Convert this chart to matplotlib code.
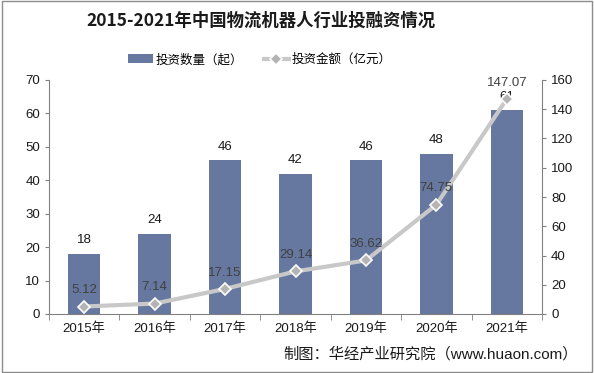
import matplotlib
matplotlib.use("Agg")
import matplotlib.pyplot as plt
from matplotlib.patches import Rectangle
import numpy as np

plt.rcParams['font.family'] = ['Liberation Sans', 'Noto Sans CJK SC', 'DejaVu Sans']

years = ['2015年', '2016年', '2017年', '2018年', '2019年', '2020年', '2021年']
counts = [18, 24, 46, 42, 46, 48, 61]
amounts = [5.12, 7.14, 17.15, 29.14, 36.62, 74.75, 147.07]
title = '2015-2021年中国物流机器人行业投融资情况'
legend_labels = ['投资数量（起）', '投资金额（亿元）']
source = '制图：华经产业研究院（www.huaon.com）'

W, H = 594, 373
fig = plt.figure(figsize=(W/100, H/100), dpi=100)
fig.patches.append(Rectangle((0.003, 0.004), 0.993, 0.992, transform=fig.transFigure,
                             fill=False, edgecolor='#8c8c8c', linewidth=1.0))

left, right, bottom, top = 49/W, 542/W, 1-314/H, 1-80/H
ax = fig.add_axes([left, bottom, right-left, top-bottom])
ax2 = ax.twinx()

x = np.arange(len(years))
bar_color = '#66789f'
bars = ax.bar(x, counts, width=0.46, color=bar_color, zorder=2, label=legend_labels[0])
ax.set_xlim(-0.5, len(years)-0.5)
ax.set_ylim(0, 70)
ax.set_yticks(range(0, 71, 10))
ax2.set_ylim(0, 160)
ax2.set_yticks(range(0, 161, 20))

for xi, c in zip(x, counts):
    ax.text(xi, c + 2.2, str(c), ha='center', va='bottom', fontsize=9.5, color='#1a1a1a', zorder=5)

line, = ax2.plot(x, amounts, color='#c8c8c8', linewidth=3, marker='D', markersize=6.5,
                 markerfacecolor='#b4b4b4', markeredgecolor='white', markeredgewidth=1.2,
                 zorder=4, label=legend_labels[1])
for xi, a in zip(x, amounts):
    ax2.text(xi, a + 7, f'{a:.2f}', ha='center', va='bottom', fontsize=9.5, color='#404040', zorder=5)

ax2.set_zorder(ax.get_zorder() + 1)
ax2.patch.set_visible(False)

for a in (ax, ax2):
    a.spines['top'].set_visible(False)
    a.tick_params(labelsize=9.5, colors='#1a1a1a', length=3, color='#808080')
ax.spines['right'].set_visible(False)
ax.spines['left'].set_color('#808080')
ax.spines['bottom'].set_color('#808080')
ax2.spines['left'].set_visible(False)
ax2.spines['bottom'].set_visible(False)
ax2.spines['right'].set_color('#808080')

ax.set_xticks(x)
ax.set_xticklabels(years)
ax.set_xticks(np.arange(-0.5, len(years), 1), minor=True)
ax.tick_params(axis='x', which='major', length=0, pad=6)
ax.tick_params(axis='x', which='minor', length=4, color='#808080')

fig.text(0.4386, 1-21/H, title, ha='center', va='center', fontsize=12.5, fontweight='bold',
         color='#1a1a1a', family=['Noto Sans CJK SC', 'DejaVu Sans'])
fig.legend([bars, line], legend_labels, loc='center', bbox_to_anchor=(0.437, 1-60/H), ncol=2,
           frameon=False, fontsize=9, handlelength=2.0, columnspacing=1.7, handletextpad=0.2)
fig.text(0.973, 1-354/H, source, ha='right', va='center', fontsize=11, color='#1a1a1a')

fig.savefig('out.png', dpi=100)
